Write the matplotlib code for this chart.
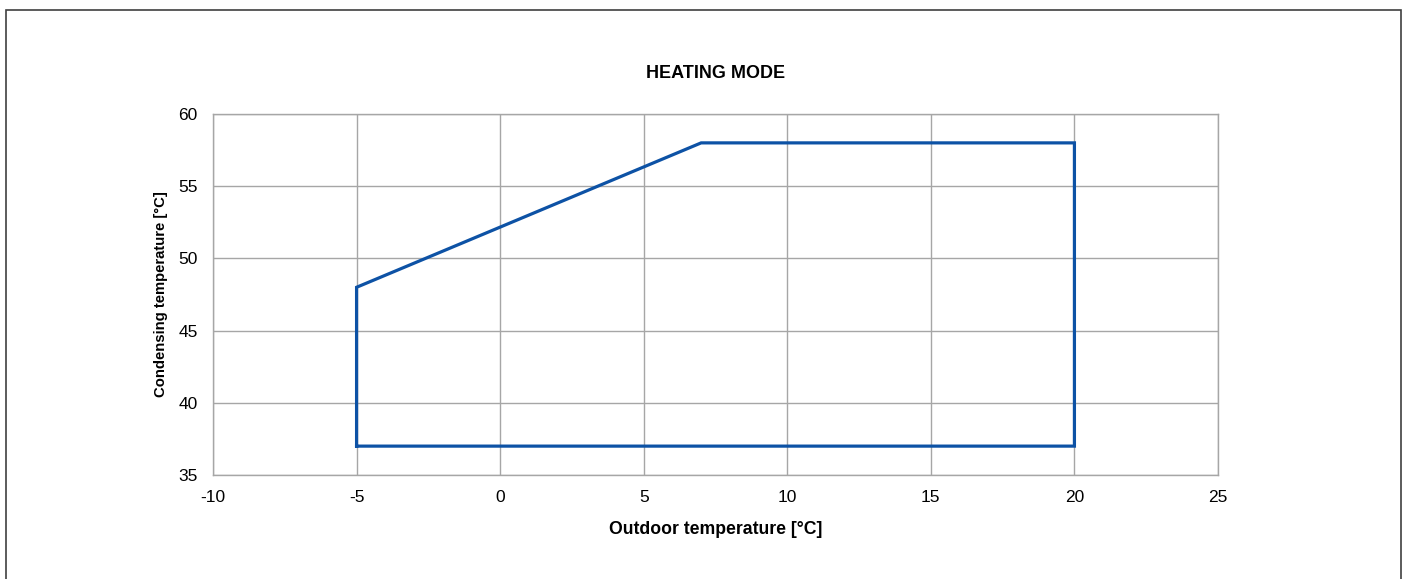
import matplotlib.pyplot as plt
from matplotlib.patches import Rectangle

plt.rcParams['font.family'] = ['Liberation Sans', 'DejaVu Sans']
plt.rcParams['axes.unicode_minus'] = False

# Operating envelope (outdoor temp, condensing temp)
outdoor_temp = [-5, -5, 7, 20, 20, -5]
condensing_temp = [37, 48, 58, 58, 37, 37]

x_ticks = [-10, -5, 0, 5, 10, 15, 20, 25]
y_ticks = [35, 40, 45, 50, 55, 60]

fig = plt.figure(figsize=(14.09, 5.79), dpi=100)
fig.patches.append(Rectangle((6 / 1409, -10 / 579), 1395 / 1409, 579 / 579,
                             transform=fig.transFigure, fill=False,
                             edgecolor="#404040", linewidth=1.2))

ax = fig.add_axes([213 / 1409, 1 - 475 / 579, 1005 / 1409, 361 / 579])
ax.plot(outdoor_temp, condensing_temp, color="#0D52A5", linewidth=2.3,
        solid_joinstyle="miter")

ax.set_xlim(-10, 25)
ax.set_ylim(35, 60)
ax.set_xticks(x_ticks)
ax.set_yticks(y_ticks)
ax.tick_params(length=0, labelsize=12.5)
ax.tick_params(axis="x", pad=11)
ax.tick_params(axis="y", pad=11)
ax.grid(color="#A6A6A6", linewidth=1)
ax.set_axisbelow(True)
for s in ax.spines.values():
    s.set_color("#A6A6A6")
    s.set_linewidth(1)

ax.set_title("HEATING MODE", fontsize=13, fontweight="bold", pad=26)
ax.set_xlabel("Outdoor temperature [°C]", fontsize=12.7, fontweight="bold", labelpad=11)
ax.set_ylabel("Condensing temperature [°C]", fontsize=10.7, fontweight="bold", labelpad=7)

fig.savefig("out.png", dpi=100)
